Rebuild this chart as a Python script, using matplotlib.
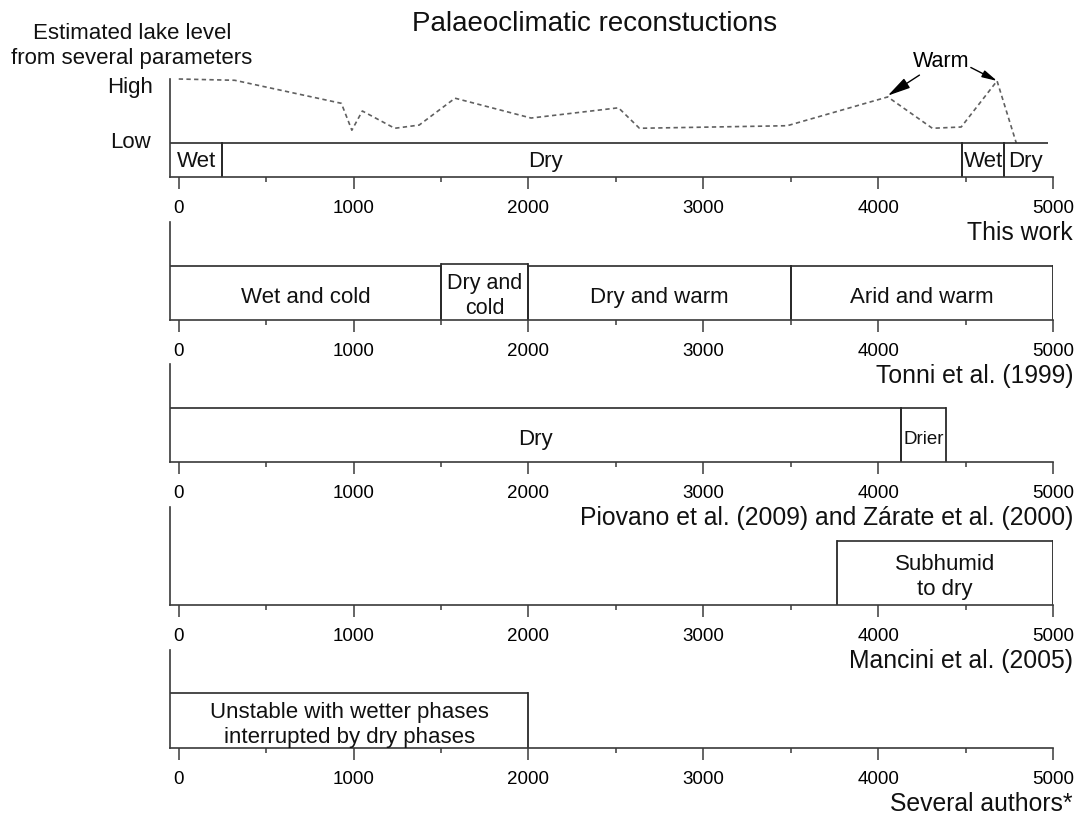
import matplotlib
matplotlib.use('Agg')
import matplotlib.pyplot as plt
from matplotlib.ticker import MultipleLocator

# --- 1. Style ---
plt.rcParams['font.family'] = ['Liberation Sans', 'DejaVu Sans']
plt.rcParams['axes.unicode_minus'] = False

# --- 2. Data (years BP) ---
# Estimated lake level, 0 = Low, 1 = High
lake_years = [0, 320, 930, 990, 1050, 1235, 1375, 1580, 2015, 2515, 2635,
              3480, 4055, 4310, 4475, 4680, 4790]
lake_level = [1.0, 0.98, 0.62, 0.20, 0.50, 0.23, 0.28, 0.70, 0.39, 0.55, 0.23,
              0.27, 0.72, 0.23, 0.25, 0.97, 0.0]
warm_years = [4055, 4680]
warm_level = [0.74, 0.97]

this_work_start = [0, 250, 4480, 4720]
this_work_end = [250, 4480, 4720, 4970]
this_work_labels = ['Wet', 'Dry', 'Wet', 'Dry']

tonni_start = [0, 1500, 2000, 3500]
tonni_end = [1500, 2000, 3500, 5000]
tonni_labels = ['Wet and cold', 'Dry and\ncold', 'Dry and warm', 'Arid and warm']

piovano_start = [0, 4130]
piovano_end = [4130, 4390]
piovano_labels = ['Dry', 'Drier']

mancini_start = [3765]
mancini_end = [5000]
mancini_labels = ['Subhumid\nto dry']

several_start = [0]
several_end = [2000]
several_labels = ['Unstable with wetter phases\ninterrupted by dry phases']

sources = ['This work', 'Tonni et al. (1999)',
           'Piovano et al. (2009) and Zárate et al. (2000)',
           'Mancini et al. (2005)', 'Several authors*']

# --- 3. Layout (pixels of a 1077 x 818 canvas) ---
W, H = 1077, 818
XMIN, XMAX = -50, 5000
AX_LEFT, AX_RIGHT = 170, 1053
LINE_C = '#2a2a2a'


def fx(x):
    return x / W


def fy(y):
    return 1 - y / H


def make_axes(top_px, bottom_px):
    ax = fig.add_axes([fx(AX_LEFT), fy(bottom_px), (AX_RIGHT - AX_LEFT) / W,
                       (bottom_px - top_px) / H])
    ax.set_xlim(XMIN, XMAX)
    for s in ['top', 'right']:
        ax.spines[s].set_visible(False)
    for s in ['left', 'bottom']:
        ax.spines[s].set_color('#3a3a3a')
        ax.spines[s].set_linewidth(1.2)
    ax.set_yticks([])
    ax.xaxis.set_major_locator(MultipleLocator(1000))
    ax.xaxis.set_minor_locator(MultipleLocator(500))
    ax.tick_params(axis='x', which='major', length=8.6, width=1.1,
                   color='#3a3a3a', labelsize=13.5, pad=8)
    ax.tick_params(axis='x', which='minor', length=3.6, width=1.1,
                   color='#3a3a3a')
    ax.patch.set_alpha(0)
    return ax


def draw_boxes(ax, starts, ends, labels, y0, tops, fontsizes, px_unit,
               close_right=True, label_x=None, shift_px=4):
    for i, (a, b, lab) in enumerate(zip(starts, ends, labels)):
        a = XMIN if a <= 0 else a
        top = tops[i]
        ax.plot([a, b], [top, top], color=LINE_C, lw=1.2, solid_capstyle='butt')
        if a > XMIN:
            ax.plot([a, a], [y0, top], color=LINE_C, lw=1.3)
        if close_right or i < len(starts) - 1:
            ax.plot([b, b], [y0, top], color=LINE_C, lw=1.3)
        xc = (a + b) / 2 if label_x is None or label_x[i] is None else label_x[i]
        ax.text(xc, (y0 + top) / 2 - shift_px * px_unit, lab, ha='center',
                va='center', fontsize=fontsizes[i], linespacing=1.25,
                color='#111')


fig = plt.figure(figsize=(W / 100, H / 100), dpi=100)

# --- Panel 1: this work + lake level ---
ax1 = make_axes(79, 177)
box1 = -34 / 64
ax1.set_ylim(box1, (177 - 79 - 34) / 64)
ax1.plot(lake_years, lake_level, color='#606060', lw=1.2,
         linestyle=(0, (2.6, 2.0)), clip_on=False)
draw_boxes(ax1, this_work_start, this_work_end, this_work_labels, box1,
           [0, 0, 0, 0], [16, 16, 16, 16], 1 / 64, close_right=False,
           label_x=[None, 2100, None, None], shift_px=1.5)
ax1.annotate('Warm', xy=(warm_years[0], warm_level[0]), xytext=(4360, 1.28),
             fontsize=15.5, ha='center', va='center', annotation_clip=False,
             arrowprops=dict(arrowstyle='-|>,head_length=0.9,head_width=0.22',
                             color='black', lw=1.0, shrinkA=1, shrinkB=0))
ax1.annotate('', xy=(warm_years[1], warm_level[1]), xytext=(4530, 1.18),
             annotation_clip=False,
             arrowprops=dict(arrowstyle='-|>,head_length=0.9,head_width=0.22',
                             color='black', lw=1.0, shrinkA=0, shrinkB=0))

# --- Panel 2: Tonni et al. ---
ax2 = make_axes(222, 320)
ax2.set_ylim(0, 1)
draw_boxes(ax2, tonni_start, tonni_end, tonni_labels, 0,
           [0.551, 0.571, 0.551, 0.551], [16, 15.5, 16, 16], 1 / 98)

# --- Panel 3: Piovano et al. and Zárate et al. ---
ax3 = make_axes(364, 462)
ax3.set_ylim(0, 1)
draw_boxes(ax3, piovano_start, piovano_end, piovano_labels, 0,
           [0.551, 0.551], [16, 13.5], 1 / 98)

# --- Panel 4: Mancini et al. ---
ax4 = make_axes(507, 605)
ax4.set_ylim(0, 1)
draw_boxes(ax4, mancini_start, mancini_end, mancini_labels, 0,
           [0.653], [16], 1 / 98)

# --- Panel 5: several authors ---
ax5 = make_axes(650, 748)
ax5.set_ylim(0, 1)
draw_boxes(ax5, several_start, several_end, several_labels, 0,
           [0.561], [16], 1 / 98)

# --- Source labels, title and lake-level labels ---
for name, base in zip(sources, [177, 320, 462, 605, 748]):
    fig.text(fx(1073), fy(base + 56), name, ha='right', va='center',
             fontsize=17.8, color='#111')

fig.text(fx(595), fy(24), 'Palaeoclimatic reconstuctions', ha='center',
         va='center', fontsize=20, color='#111')
fig.text(fx(132), fy(46), 'Estimated lake level\nfrom several parameters',
         ha='center', va='center', fontsize=16, color='#111', linespacing=1.25)
fig.text(fx(153), fy(87), 'High', ha='right', va='center', fontsize=16,
         color='#111')
fig.text(fx(151), fy(143), 'Low', ha='right', va='center', fontsize=16,
         color='#111')

fig.savefig('out.png', dpi=100)
